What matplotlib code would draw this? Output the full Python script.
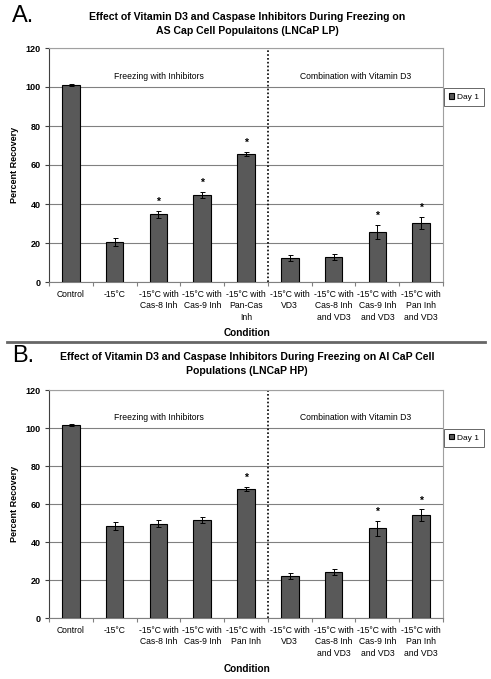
import matplotlib
matplotlib.use("Agg")
import matplotlib.pyplot as plt
import numpy as np

plt.rcParams['font.family'] = ['Liberation Sans', 'DejaVu Sans']

cats_a = ["Control", "-15°C", "-15°C with\nCas-8 Inh", "-15°C with\nCas-9 Inh",
          "-15°C with\nPan-Cas\nInh", "-15°C with\nVD3", "-15°C with\nCas-8 Inh\nand VD3",
          "-15°C with\nCas-9 Inh\nand VD3", "-15°C with\nPan Inh\nand VD3"]
vals_a = [101.0, 20.4, 34.8, 44.8, 65.7, 12.4, 13.0, 25.6, 30.4]
errs_a = [0.5, 2.1, 1.8, 1.5, 1.2, 1.5, 1.5, 3.8, 3.1]
stars_a = [False, False, True, True, True, False, False, True, True]
title_a = "Effect of Vitamin D3 and Caspase Inhibitors During Freezing on\nAS Cap Cell Populaitons (LNCaP LP)"

cats_b = ["Control", "-15°C", "-15°C with\nCas-8 Inh", "-15°C with\nCas-9 Inh",
          "-15°C with\nPan Inh", "-15°C with\nVD3", "-15°C with\nCas-8 Inh\nand VD3",
          "-15°C with\nCas-9 Inh\nand VD3", "-15°C with\nPan Inh\nand VD3"]
vals_b = [101.5, 48.4, 49.6, 51.7, 67.9, 22.2, 24.3, 47.2, 54.0]
errs_b = [0.5, 2.3, 1.8, 1.5, 1.2, 1.6, 1.5, 4.0, 3.2]
stars_b = [False, False, False, False, True, False, False, True, True]
title_b = "Effect of Vitamin D3 and Caspase Inhibitors During Freezing on AI CaP Cell\nPopulations (LNCaP HP)"

yticks = [0, 20, 40, 60, 80, 100, 120]
group_labels = ["Freezing with Inhibitors", "Combination with Vitamin D3"]
legend_label = "Day 1"

W, H = 491, 679
fig = plt.figure(figsize=(W / 100, H / 100), dpi=100)

def px_axes(l, t, r, b):
    return fig.add_axes([l / W, 1 - b / H, (r - l) / W, (b - t) / H])

def draw_panel(ax, cats, vals, errs, stars, title, title_y, label, label_y, xlabel_y):
    x = np.arange(len(cats))
    ax.bar(x, vals, width=0.4, color='#595959', edgecolor='black', linewidth=0.8,
           label=legend_label, zorder=3)
    ax.errorbar(x, vals, yerr=errs, fmt='none', ecolor='black', elinewidth=0.7,
                capsize=1.8, capthick=0.7, zorder=4)
    for xi, v, e, s in zip(x, vals, errs, stars):
        if s:
            ax.annotate('*', (xi, v + e), xytext=(0, 4), textcoords='offset points',
                        ha='center', va='baseline', fontsize=7.5, fontweight='bold', zorder=5)
    ax.set_xlim(-0.5, len(cats) - 0.5)
    ax.set_ylim(0, 120)
    ax.set_yticks(yticks)
    ax.set_yticklabels([str(v) for v in yticks], fontsize=6.5, fontweight='bold')
    ax.yaxis.grid(True, color='#808080', linewidth=0.8, zorder=0)
    ax.set_axisbelow(True)
    ax.set_xticks(x)
    ax.set_xticklabels(cats, fontsize=6.2, linespacing=1.3)
    ax.set_xticks(np.arange(-0.5, len(cats), 1.0), minor=True)
    ax.tick_params(axis='x', which='major', length=0, pad=6)
    ax.tick_params(axis='x', which='minor', length=3, color='#808080', width=0.8)
    ax.tick_params(axis='y', length=3, color='#404040', width=0.8, pad=3)
    for side in ['top', 'right']:
        ax.spines[side].set_color('#a0a0a0')
        ax.spines[side].set_linewidth(0.8)
    ax.spines['left'].set_color('#404040')
    ax.spines['bottom'].set_color('#808080')
    ax.axvline(4.5, color='black', linestyle=(0, (1, 1.3)), linewidth=1.2, zorder=2)
    ax.text(2.0, 105.5, group_labels[0], ha='center', va='center', fontsize=6.2)
    ax.text(6.5, 105.5, group_labels[1], ha='center', va='center', fontsize=6.2)
    ax.set_ylabel("Percent Recovery", fontsize=6.5, fontweight='bold', labelpad=5)
    fig.text(247 / W, 1 - xlabel_y / H, "Condition", ha='center', va='center',
             fontsize=7.2, fontweight='bold')
    fig.text(247 / W, 1 - title_y / H, title, ha='center', va='center', fontsize=7.6,
             fontweight='bold', linespacing=1.5)
    fig.text(12 / W, 1 - label_y / H, label, ha='left', va='center', fontsize=17)
    leg = ax.legend(loc='center left', bbox_to_anchor=(1.003, 0.79), fontsize=6,
                    frameon=True, fancybox=False, edgecolor='#404040', handlelength=0.6,
                    handleheight=0.6, handletextpad=0.3, borderpad=0.6, borderaxespad=0)
    leg.get_frame().set_linewidth(0.7)

axA = px_axes(49, 48, 443, 282)
draw_panel(axA, cats_a, vals_a, errs_a, stars_a, title_a, 24.5, "A.", 16, 333)
axB = px_axes(49, 390, 443, 618)
draw_panel(axB, cats_b, vals_b, errs_b, stars_b, title_b, 364, "B.", 356, 669)

fig.add_artist(plt.Line2D([7 / W, 485 / W], [1 - 342 / H, 1 - 342 / H], color='#666666',
                          linewidth=2, transform=fig.transFigure))

fig.savefig("out.png", dpi=100)
